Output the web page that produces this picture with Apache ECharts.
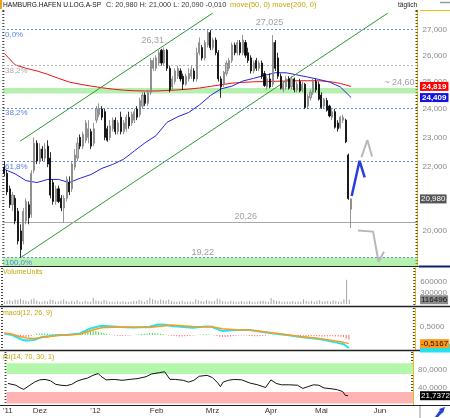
<!DOCTYPE html>
<html><head><meta charset="utf-8">
<script src="https://cdn.jsdelivr.net/npm/echarts@6/dist/echarts.min.js"></script>
<style>html,body{margin:0;padding:0;background:#fff}#c{width:450px;height:418px}</style>
</head><body><div id="c"></div>
<script>
// ---------- DATA ----------
const firstDay = '2011-11-15';
const slotCount = 153;
const closedDays = ['2011-12-26','2012-04-06','2012-04-09','2012-05-01'];
const monthLabelIdx = [0,12,33,56,77,99,118,140];
const monthLabels = ["'11","Dez","'12","Feb","Mrz","Apr","Mai","Jun"];

const openP = [22.0,21.8,21.3,20.8,21.0,20.6,20.0,19.7,20.3,20.8,
20.5,21.9,22.8,22.2,22.6,22.3,22.7,22.3,21.5,20.9,
21.3,21.0,20.7,21.0,21.5,21.3,22.0,22.3,23.0,22.7,
22.9,23.0,23.2,22.8,23.6,23.8,24.0,23.9,23.3,23.0,
23.3,23.6,23.2,23.7,23.2,23.3,23.7,23.5,23.6,24.0,
23.8,24.1,24.5,24.2,24.6,25.5,25.5,25.7,26.2,25.7,
26.2,25.5,24.8,25.0,25.2,25.4,25.2,24.9,25.1,25.2,
25.4,25.1,26.1,26.3,25.9,26.4,26.9,26.3,26.6,26.1,
25.1,24.9,25.3,25.5,25.8,26.4,26.1,26.5,26.1,26.5,
26.1,25.9,25.4,25.8,25.5,25.7,25.3,24.8,25.1,24.9,
26.5,25.9,25.2,24.7,24.8,25.1,24.8,25.1,24.7,25.0,
24.7,24.9,24.1,24.4,24.6,25.0,24.9,24.5,24.1,24.3,
24.1,23.7,23.9,23.5,23.35,23.6,23.6,22.4,20.66];
const closeP = [21.8,21.2,20.8,21.1,20.3,19.7,19.45,20.6,20.9,20.4,
21.8,22.8,22.2,22.6,22.3,22.6,22.1,21.1,20.9,21.3,
20.9,20.7,21.0,21.6,21.2,22.1,22.4,22.8,22.7,23.1,
23.5,23.3,22.7,23.3,24.0,24.0,23.7,23.0,22.9,23.4,
23.6,23.2,23.5,23.2,23.5,23.7,23.4,23.8,23.9,23.7,
24.3,24.5,24.2,24.6,25.8,25.8,25.9,26.1,25.7,26.2,
25.5,24.7,25.1,25.4,25.5,25.1,24.9,25.2,25.3,25.45,
25.1,26.1,26.5,25.9,26.5,26.9,26.3,26.6,26.1,25.1,
24.8,25.35,25.7,25.8,26.4,26.1,26.5,26.1,26.6,26.0,
25.8,25.4,25.7,25.5,25.7,25.2,24.85,25.1,24.8,26.5,
25.5,25.2,24.75,24.9,25.1,24.75,25.1,24.7,24.9,24.65,
24.9,24.05,24.45,24.6,25.0,24.7,24.35,24.05,24.35,23.95,
23.75,23.9,23.35,23.3,23.7,23.7,22.85,20.99,20.98];
const highP = [22.2,21.9,21.4,21.2,21.1,20.7,20.2,20.7,21.0,20.9,
21.9,23.0,22.9,22.8,22.7,22.8,22.9,22.5,21.6,21.4,
21.4,21.1,21.1,21.7,21.7,22.2,22.6,23.0,23.1,23.2,
23.6,23.6,23.3,23.5,24.1,24.2,24.1,24.0,23.4,23.6,
23.7,23.7,23.6,23.9,23.6,23.8,23.9,23.9,24.0,24.1,
24.4,24.6,24.6,24.7,25.9,25.9,26.0,26.2,26.25,26.31,
26.25,25.6,25.2,25.5,25.6,25.5,25.3,25.3,25.5,25.6,
25.5,26.3,26.7,26.4,26.6,27.025,27.0,26.7,26.7,26.2,
25.2,25.4,25.8,25.9,26.5,26.5,26.6,26.6,26.8,26.6,
26.3,26.0,25.8,25.9,25.8,25.8,25.4,25.2,25.3,26.8,
26.6,26.1,25.3,25.0,25.2,25.2,25.2,25.15,25.0,25.1,
25.0,24.95,24.55,24.7,25.1,25.1,25.0,24.6,24.4,24.4,
24.15,24.0,24.0,23.6,23.75,23.8,23.65,22.45,21.0];
const lowP = [21.7,21.1,20.7,20.6,20.2,19.6,19.22,19.6,20.2,20.2,
20.4,21.8,22.1,22.1,22.2,22.2,22.0,21.0,20.8,20.8,
20.85,20.6,20.26,20.9,21.1,21.2,21.9,22.2,22.6,22.6,
22.8,22.8,22.6,22.7,23.5,23.7,23.6,22.9,22.85,22.9,
23.2,23.1,23.1,23.1,23.1,23.2,23.3,23.4,23.5,23.6,
23.7,24.0,24.1,24.1,24.5,25.4,25.4,25.6,25.6,25.6,
25.4,24.6,24.7,24.9,25.1,25.0,24.69,24.85,25.0,25.1,
25.0,25.0,26.0,25.8,25.8,26.3,26.2,26.2,26.0,25.0,
24.4,24.8,25.2,25.4,25.7,26.0,26.0,26.0,26.0,25.9,
25.7,25.3,25.3,25.4,25.4,25.1,24.8,24.7,24.75,24.8,
25.4,25.1,24.7,24.6,24.7,24.7,24.7,24.6,24.6,24.6,
24.6,24.0,24.0,24.3,24.5,24.6,24.3,24.0,24.0,23.9,
23.7,23.6,23.3,23.2,23.3,23.5,22.8,20.95,20.09];

const ma200Idx = [0,4,8,12,16,20,24,28,32,36,40,44,48,52,56,60,64,68,72,76,80,84,88,92,96,100,104,108,112,116,120,124,128];
const ma200Val = [26.07,25.63,25.5,25.4,25.27,25.12,24.98,24.9,24.83,24.77,24.72,24.68,24.66,24.65,24.65,24.67,24.69,24.72,24.76,24.82,24.88,24.94,24.97,24.99,25.0,25.01,25.02,25.03,25.03,25.03,25.0,24.93,24.819];
const ma50Idx = ma200Idx;
const ma50Val = [21.93,21.78,21.56,21.5,21.6,21.6,21.5,21.64,21.76,21.96,22.09,22.26,22.54,22.82,23.06,23.52,23.72,23.87,24.14,24.48,24.73,24.83,25.02,25.12,25.23,25.33,25.33,25.25,25.17,25.08,24.98,24.8,24.409];

const volumeVal = [70000,90000,110000,80000,120000,110000,140000,100000,90000,70000,
120000,150000,90000,60000,60000,80000,70000,120000,110000,60000,
70000,90000,120000,80000,60000,90000,70000,110000,60000,60000,
90000,70000,60000,160000,90000,80000,70000,110000,90000,60000,
60000,50000,70000,60000,80000,60000,60000,70000,90000,80000,
110000,90000,60000,100000,170000,130000,110000,90000,120000,100000,
90000,120000,80000,70000,60000,70000,90000,60000,60000,70000,
60000,130000,100000,80000,70000,110000,90000,70000,80000,140000,
120000,80000,70000,60000,90000,70000,60000,60000,80000,60000,
70000,90000,60000,60000,70000,80000,90000,70000,60000,160000,
110000,90000,80000,60000,60000,70000,60000,80000,60000,70000,
60000,120000,80000,70000,90000,60000,90000,100000,70000,80000,
90000,70000,100000,80000,60000,70000,130000,660000,116496];

const macdIdx = [0,3,6,8,11,14,17,20,23,28,32,36,43,48,54,57,60,62,70,75,77,81,86,91,100,105,110,117,123,126,128];
const macdVal = [0.1,0.0,-0.25,-0.33,-0.3,-0.12,-0.05,0.0,0.0,0.1,0.4,0.56,0.48,0.45,0.5,0.64,0.62,0.55,0.44,0.52,0.5,0.24,0.3,0.3,0.1,0.0,-0.12,-0.24,-0.44,-0.55,-0.78];
const signalVal = [0.12,0.05,-0.1,-0.17,-0.2,-0.15,-0.08,-0.02,0.0,0.05,0.26,0.44,0.48,0.47,0.46,0.52,0.56,0.6,0.52,0.5,0.5,0.38,0.32,0.3,0.12,0.02,-0.08,-0.2,-0.36,-0.44,-0.5167];
const histVal = [0.02,0.0,-0.03,-0.05,-0.08,-0.12,-0.14,-0.15,-0.14,-0.1,
-0.06,0.04,0.08,0.1,0.1,0.09,0.08,0.07,0.06,0.05,
0.04,0.03,0.02,0.03,0.05,0.07,0.09,0.1,0.13,0.17,
0.2,0.22,0.25,0.26,0.24,0.2,0.16,0.12,0.08,0.05,
0.02,-0.02,-0.04,-0.05,-0.05,-0.04,-0.03,-0.02,0.0,0.02,
0.04,0.06,0.08,0.1,0.12,0.12,0.11,0.1,0.08,0.06,
0.04,-0.02,-0.04,-0.06,-0.07,-0.08,-0.08,-0.07,-0.06,-0.05,
-0.03,-0.01,0.02,0.04,0.05,0.05,0.04,0.02,-0.02,-0.06,
-0.1,-0.12,-0.12,-0.1,-0.08,-0.06,-0.04,-0.03,-0.02,-0.02,
-0.02,-0.05,-0.06,-0.07,-0.07,-0.06,-0.05,-0.04,-0.01,0.0,
0.0,0.0,-0.01,-0.01,-0.02,-0.02,-0.01,-0.03,-0.06,-0.05,
-0.05,-0.06,-0.07,-0.07,-0.06,-0.05,-0.06,-0.07,-0.08,-0.08,
-0.08,-0.07,-0.07,-0.08,-0.09,-0.1,-0.12,-0.2,-0.26];

const rsiIdx = [0,3,5,6,8,10,12,14,16,18,20,22,24,26,28,30,32,34,35,37,40,43,46,49,52,54,57,59,61,63,66,68,70,72,75,77,79,80,81,83,85,88,91,94,96,97,99,101,103,106,109,111,113,115,117,119,122,124,126,127,128];
const rsiVal = [49,45,38,36,44,52,57,58,55,47,45,44,47,54,58,61,67,71,65,57,58,56,58,60,64,70,73,75,58,58,56,52,56,65,67,62,50,42,52,56,58,57,50,46,42,40,57,49,46,46,45,38,42,46,45,39,37,35,31,22.5,21.7372];

const priceTicks = [20,21,22,23,24,25,26,27];
const volumeTicks = [300000,600000];
const macdTicks = [-0.5,0.5];
const rsiTicks = [40,80];

// Fibonacci / level lines
const fibBlue = [27.025, 24.044, 22.20, 19.22];
const fibBlueText = ['0,0%','38,2%','61,8%','100,0%'];
const fibGray = [25.62];
const fibGrayText = ['38,2%'];
const supportLine = 20.26;
const zoneBands = [[24.56,24.76],[18.98,19.22]];
const rsiBands = [[70,94],[4.5,30]];

// trend channel & arrows (x in trading-day slots, y in price)
const channelLower = [[6,19.22],[141.5,27.69]];
const channelUpper = [[5.8,22.87],[76.9,27.69]];
const arrowUpGray = [[131.8,22.33],[134,22.91],[135.7,22.35]];
const arrowBlue = [[128.2,21.07],[131.1,22.21],[133,21.67]];
const arrowDownGray = [[130.5,20.01],[136.1,19.98],[138.1,19.10],[140.1,19.39]];

const priceNotes = [
  {text:'27,025', at:[97.9,27.32]},
  {text:'26,31', at:[54.8,26.60]},
  {text:'~ 24,60', at:[151.4,24.95], align:'right'},
  {text:'20,26', at:[89.1,20.44]},
  {text:'19,22', at:[73.2,19.38]}
];

const lastClose = 20.98, ma200Last = 24.819, ma50Last = 24.409;
const volLast = 116496, signalLast = -0.5167, macdLast = -0.78, rsiLast = 21.7372;

// ---------- BUILD ----------
function tradingDays(startIso, count, skip){
  const out=[]; const d=new Date(startIso+'T00:00:00Z');
  while(out.length<count){
    const dow=d.getUTCDay(); const iso=d.toISOString().slice(0,10);
    if(dow!==0 && dow!==6 && !skip.includes(iso)) out.push(iso);
    d.setUTCDate(d.getUTCDate()+1);
  }
  return out;
}
const categories = tradingDays(firstDay, slotCount, closedDays);
const fmt = (v,d)=> v.toFixed(d).replace('.',',');
const pairs = (xs, ys)=> xs.map((x,i)=>[x, ys[i]]);
const FONT = 'Liberation Sans';

const grids = [
  {left:3, right:31, top:10, height:256},
  {left:3, right:31, top:268, height:36},
  {left:3, right:31, top:308, height:42},
  {left:3, right:31, top:352, height:53}
];

function tickAxis(g, pos){
  return {type:'value', gridIndex:g, position:pos, min:0, max:grids[g].height/3, interval:1,
    axisLine:{show:false}, axisLabel:{show:false}, splitLine:{show:false},
    axisTick:{show:true, inside: pos==='right', length:2, lineStyle:{color:'#444', width:1}}};
}
function valueAxis(g, min, max, ticks, formatter, type){
  return {type:type||'value', gridIndex:g, position:'right', min, max, logBase:10,
    axisLine:{show:true, onZero:false, lineStyle:{color:'#f0c000', width:1}},
    axisTick:{show:false}, splitLine:{show:false},
    axisLabel:{customValues:ticks, formatter, fontSize:8, color:'#8a8a8a', margin:5, fontFamily:FONT}};
}

const blueDash = {color:'#6a8ae8', type:[2,2], width:1};
const grayDash = {color:'#b4b4b4', type:[2,2], width:1};

const option = {
  animation:false,
  textStyle:{fontFamily:FONT},
  grid: grids,
  xAxis: [
    {type:'category', gridIndex:0, data:categories, show:false},
    {type:'value', gridIndex:0, min:-0.5, max:slotCount-0.5, show:false},
    {type:'category', gridIndex:1, data:categories, show:false},
    {type:'category', gridIndex:2, data:categories, show:false},
    {type:'category', gridIndex:3, data:categories,
      axisLine:{show:false}, axisTick:{show:false},
      axisLabel:{interval:(i)=>monthLabelIdx.includes(i),
        formatter:(v,i)=>monthLabels[monthLabelIdx.indexOf(i)],
        fontSize:8, color:'#333', margin:2, fontFamily:FONT}}
  ],
  yAxis: [
    valueAxis(0, 18.98, 27.82, priceTicks, v=>fmt(v,3), 'log'), //0
    tickAxis(0,'left'), tickAxis(0,'right'),                     //1,2
    valueAxis(1, 0, 980000, volumeTicks, v=>String(Math.round(v))), //3
    tickAxis(1,'left'), tickAxis(1,'right'),                     //4,5
    valueAxis(2, -0.9, 1.63, macdTicks, v=>fmt(v,4)),            //6
    tickAxis(2,'left'), tickAxis(2,'right'),                     //7,8
    valueAxis(3, 1.1, 118.9, rsiTicks, v=>fmt(v,4)),             //9
    tickAxis(3,'left'), tickAxis(3,'right')                      //10,11
  ],
  series: [
    {type:'line', xAxisIndex:0, yAxisIndex:0, data:[], z:1, silent:true,
      markLine:{silent:true, symbol:['none','none'], label:{show:false},
        data: fibBlue.map(v=>({yAxis:v, lineStyle:blueDash}))
          .concat(fibGray.map(v=>({yAxis:v, lineStyle:grayDash})))
          .concat([{yAxis:supportLine, lineStyle:{color:'#a8a8a8', type:'solid', width:1}}])}},
    {type:'line', xAxisIndex:0, yAxisIndex:0, data:pairs(ma200Idx, ma200Val), showSymbol:false, z:2,
      lineStyle:{color:'#ee1010', width:1}},
    {type:'line', xAxisIndex:0, yAxisIndex:0, data:pairs(ma50Idx, ma50Val), showSymbol:false, z:2,
      lineStyle:{color:'#2424e0', width:1}},
    {type:'line', xAxisIndex:0, yAxisIndex:0, data:[], z:3, silent:true,
      markArea:{silent:true, itemStyle:{color:'rgba(110,225,100,0.5)'},
        data: zoneBands.map(b=>[{yAxis:b[0]},{yAxis:b[1]}])}},
    {type:'line', xAxisIndex:1, yAxisIndex:0, data:channelLower, showSymbol:false, z:4,
      lineStyle:{color:'#2a9a2a', width:1}},
    {type:'line', xAxisIndex:1, yAxisIndex:0, data:channelUpper, showSymbol:false, z:4,
      lineStyle:{color:'#2a9a2a', width:1}},
    {type:'candlestick', xAxisIndex:0, yAxisIndex:0, barWidth:1.6, z:5,
      data: openP.map((o,i)=>[o, closeP[i], lowP[i], highP[i]]),
      itemStyle:{color:'#bdbdbd', color0:'#000', borderColor:'#7c7c7c', borderColor0:'#000', borderWidth:0.8}},
    {type:'line', xAxisIndex:1, yAxisIndex:0, data:arrowUpGray, showSymbol:false, z:6,
      lineStyle:{color:'#b8b8b8', width:2}},
    {type:'line', xAxisIndex:1, yAxisIndex:0, data:arrowBlue, showSymbol:false, z:6,
      lineStyle:{color:'#2a3ed8', width:2.5}},
    {type:'line', xAxisIndex:1, yAxisIndex:0, data:arrowDownGray, showSymbol:false, z:6,
      lineStyle:{color:'#b8b8b8', width:2}},
    {type:'bar', xAxisIndex:2, yAxisIndex:3, data:volumeVal, barWidth:1, itemStyle:{color:'#a4a4a4'}},
    {type:'bar', xAxisIndex:3, yAxisIndex:6, data:histVal, barWidth:1,
      itemStyle:{color:(p)=> p.value>=0 ? '#44dd44' : '#ff6a6a'}},
    {type:'line', xAxisIndex:3, yAxisIndex:6, data:pairs(macdIdx, macdVal), showSymbol:false,
      lineStyle:{color:'#22e3f0', width:2}},
    {type:'line', xAxisIndex:3, yAxisIndex:6, data:pairs(macdIdx, signalVal), showSymbol:false,
      lineStyle:{color:'#ff9a1a', width:1.5}},
    {type:'line', xAxisIndex:4, yAxisIndex:9, data:pairs(rsiIdx, rsiVal), showSymbol:false, z:3,
      lineStyle:{color:'#111', width:1},
      markArea:{silent:true, data:[
        [{yAxis:rsiBands[0][0], itemStyle:{color:'#b2f7aa'}},{yAxis:rsiBands[0][1]}],
        [{yAxis:rsiBands[1][0], itemStyle:{color:'#ffb4b4'}},{yAxis:rsiBands[1][1]}]]}}
  ]
};

const chart = echarts.init(document.getElementById('c'));
chart.setOption(option);

// ---------- annotations positioned through the axes ----------
const P = (xi, v)=> chart.convertToPixel({xAxisIndex:1, yAxisIndex:0}, [xi, v]);
const Y = (axis, v)=> chart.convertToPixel({yAxisIndex:axis}, v);
function txt(x, y, text, o){
  o = o || {};
  return {type:'text', x, y, scaleX:o.sx||1, z:100, silent:true,
    style:{text, fill:o.fill||'#000', font:(o.w||'normal')+' '+(o.size||8)+'px "'+FONT+'"',
      align:o.align||'left', verticalAlign:o.va||'middle',
      backgroundColor:o.bg, padding:o.pad}};
}
function line(x1,y1,x2,y2,color,w){
  return {type:'line', z:100, silent:true, shape:{x1,y1,x2,y2}, style:{stroke:color, lineWidth:w||1}};
}
const gfx = [];
// title
gfx.push({type:'rect', z:100, shape:{x:0,y:0,width:2,height:9}, style:{fill:'#f0a020'}});
gfx.push(txt(3, 5, 'HAMBURG.HAFEN U.LOG.A-SP', {fill:'#111', sx:0.83}));
gfx.push(txt(106, 5, 'C: 20,980 H: 21,000 L: 20,090 -0,010', {fill:'#3a3a3a', sx:0.91}));
gfx.push(txt(230, 5, 'move(50, 0) move(200, 0)', {fill:'#c2a800', sx:0.94}));
gfx.push(txt(398, 5, 'täglich', {fill:'#222', sx:0.83}));
gfx.push(line(440,2.5,450,2.5,'#999',1.5));
// fib labels
fibBlue.forEach((v,i)=> gfx.push(txt(5, Y(0,v)+1.5, fibBlueText[i], {fill:'#5a80e6', va:'top'})));
fibGray.forEach((v,i)=> gfx.push(txt(5, Y(0,v)+1.5, fibGrayText[i], {fill:'#a8a8a8', va:'top'})));
priceNotes.forEach(n=>{ const p=P(n.at[0], n.at[1]);
  gfx.push(txt(p[0], p[1], n.text, {fill:'#a0a0a0', size:9, align:n.align||'center'})); });
// panel titles
gfx.push(txt(3, 272, 'VolumeUnits', {fill:'#c2a800', sx:0.88}));
gfx.push(txt(3, 313, 'macd(12, 26, 9)', {fill:'#c2a800', sx:0.88}));
gfx.push(txt(3, 357, 'rsi(14, 70, 30, 1)', {fill:'#c2a800', sx:0.88}));
// separators and frame
gfx.push(line(420,10.5,450,10.5,'#f0c000',1));
gfx.push(line(0,266.5,419,266.5,'#222',1));
gfx.push(line(419,266.5,450,266.5,'#102070',2));
gfx.push(line(0,306.5,450,306.5,'#222',1.5));
gfx.push(line(0,350.5,450,350.5,'#222',1.5));
gfx.push(line(0,405.5,450,405.5,'#222',1));
gfx.push(line(420,406,420,418,'#999',1));
gfx.push({type:'polygon', z:100, shape:{points:[[435,417],[440,410],[443,412],[438,417]]}, style:{fill:'#2040d0'}});
gfx.push({type:'polygon', z:100, shape:{points:[[439,409],[445,407],[443,413]]}, style:{fill:'#2040d0'}});
// value boxes on the right axis
const bx = 420;
gfx.push(txt(bx, Y(0,ma200Last), fmt(ma200Last,3), {fill:'#fff', bg:'#ff0000', pad:[1,2,0,2], w:'bold'}));
gfx.push(txt(bx, Y(0,ma50Last), fmt(ma50Last,3), {fill:'#fff', bg:'#1414e0', pad:[1,2,0,2], w:'bold'}));
gfx.push(txt(bx, Y(0,lastClose), fmt(lastClose,3), {fill:'#fff', bg:'#555', pad:[1,1,0,1]}));
gfx.push(txt(bx, Y(3,volLast), String(volLast), {fill:'#111', bg:'#8a8a8a', pad:[1,1,0,1]}));
gfx.push(txt(bx, Y(6,macdLast), fmt(macdLast,4), {fill:'#22e3f0', bg:'#22e3f0', pad:[1,2,0,2]}));
gfx.push(txt(bx, Y(6,signalLast), fmt(signalLast,4), {fill:'#111', bg:'#ff9a1a', pad:[1,1,0,1]}));
gfx.push(txt(bx, Y(9,rsiLast), fmt(rsiLast,4), {fill:'#fff', bg:'#000', pad:[1,1,0,1]}));
chart.setOption({graphic: gfx});
</script></body></html>
